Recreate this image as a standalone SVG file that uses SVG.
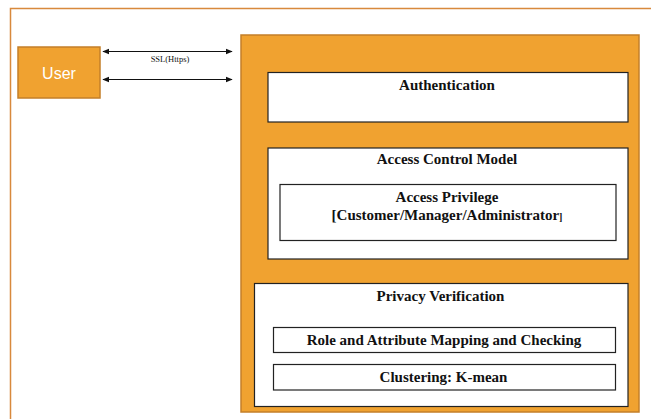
<svg xmlns="http://www.w3.org/2000/svg" width="651" height="419" viewBox="0 0 651 419">
<defs>
<marker id="ah" viewBox="0 0 10 10" refX="9" refY="5" markerWidth="7" markerHeight="7" markerUnits="userSpaceOnUse" orient="auto-start-reverse">
<path d="M0,1 L10,5 L0,9 z" fill="#111"/>
</marker>
</defs>
<style>
.org{fill:#f0a230;stroke:#c47f28;stroke-width:1.5}
.wb{fill:#fff;stroke:#222;stroke-width:1.2}
.t{font-family:"Liberation Serif","Times New Roman",serif;font-weight:bold;font-size:15px;fill:#111;text-anchor:middle}
.conn{stroke:#111;stroke-width:1.2;fill:none}
</style>
<rect width="651" height="419" fill="#fff"/>
<path d="M10.5,419 L10.5,8.5 L651,8.5" fill="none" stroke="#d8893c" stroke-width="1.5"/>
<g id="user">
<rect class="org" x="18" y="47" width="82" height="51"/>
<text x="59" y="79" font-family="Liberation Sans,Arial,sans-serif" font-size="16" fill="#fff" text-anchor="middle">User</text>
</g>
<g id="system">
<rect class="org" x="241" y="35" width="398" height="377"/>
</g>
<g id="authentication">
<rect class="wb" x="268" y="72.5" width="360" height="49.5"/>
<text class="t" x="447" y="90">Authentication</text>
</g>
<g id="access-control">
<rect class="wb" x="268" y="148" width="360" height="111"/>
<text class="t" x="447" y="164">Access Control Model</text>
</g>
<g id="access-privilege">
<rect class="wb" x="280" y="184.5" width="336" height="56" stroke="#333"/>
<text class="t" x="447" y="202">Access Privilege</text>
<text class="t" x="447" y="220">[Customer/Manager/Administrator<tspan font-size="10">]</tspan></text>
</g>
<g id="privacy">
<rect class="wb" x="254.5" y="283.5" width="373.5" height="123"/>
<text class="t" x="440.5" y="301">Privacy Verification</text>
</g>
<g id="role">
<rect class="wb" x="273.5" y="327.5" width="342" height="25" stroke="#333"/>
<text class="t" x="444" y="344.5">Role and Attribute Mapping and Checking</text>
</g>
<g id="clustering">
<rect class="wb" x="273.5" y="364.5" width="342" height="25.5" stroke="#333"/>
<text class="t" x="443.5" y="382">Clustering: K-mean</text>
</g>
<g id="connectors">
<line class="conn" x1="103" y1="51.5" x2="232" y2="51.5" marker-start="url(#ah)" marker-end="url(#ah)"/>
<line class="conn" x1="103" y1="79.5" x2="232" y2="79.5" marker-start="url(#ah)" marker-end="url(#ah)"/>
<text x="170" y="61.5" font-family="Liberation Serif,Times New Roman,serif" font-size="8.5" fill="#111" text-anchor="middle">SSL(Https)</text>
</g>
</svg>
